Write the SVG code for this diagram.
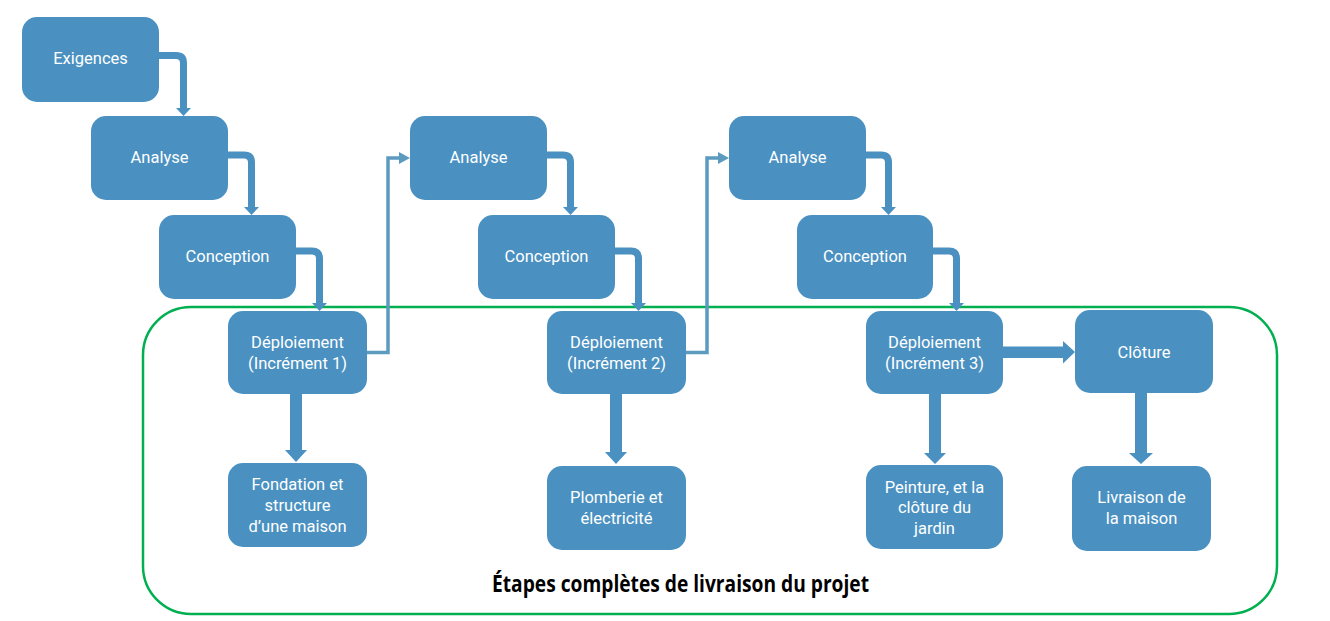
<svg xmlns="http://www.w3.org/2000/svg" width="1330" height="621" viewBox="0 0 1330 621">
<defs>
<style>
.box{fill:#4a91c2;}
.lbl{fill:#ffffff;font-family:Roboto,"Liberation Sans",sans-serif;font-size:16.5px;text-anchor:middle;}
.elbow{fill:none;stroke:#4a91c2;stroke-width:7;}
.thin{fill:none;stroke:#5b9bbf;stroke-width:3.5;}
.head{fill:#4a91c2;}
.thead{fill:#5b9bbf;}
.thick{fill:#4a91c2;}
.frame{fill:none;stroke:#00b050;stroke-width:2.5;}
.title{fill:#000000;font-family:"Open Sans","Liberation Sans",sans-serif;font-size:23px;font-weight:700;}
</style>
</defs>
<rect width="1330" height="621" fill="#ffffff"/>
<rect id="frame" class="frame" x="143" y="307" width="1134" height="307" rx="48" ry="48"/>
<text class="title" x="492" y="592" textLength="377" lengthAdjust="spacingAndGlyphs">Étapes complètes de livraison du projet</text>

<g id="connectors">
  <path class="elbow" d="M159,55.5 H176 Q183.5,55.5 183.5,63 V108"/>
  <polygon class="head" points="176,108 191,108 183.5,116"/>
  <path class="elbow" d="M228,155 H244 Q251.5,155 251.5,162.5 V207"/>
  <polygon class="head" points="244,207 259,207 251.5,215"/>
  <path class="elbow" d="M296,251 H312 Q319.5,251 319.5,258.5 V303"/>
  <polygon class="head" points="312,303 327,303 319.5,311"/>

  <path class="elbow" d="M547,155 H563 Q570.5,155 570.5,162.5 V207"/>
  <polygon class="head" points="563,207 578,207 570.5,215"/>
  <path class="elbow" d="M615,251 H631 Q638.5,251 638.5,258.5 V303"/>
  <polygon class="head" points="631,303 646,303 638.5,311"/>

  <path class="elbow" d="M866,155 H881 Q888.5,155 888.5,162.5 V207"/>
  <polygon class="head" points="881,207 896,207 888.5,215"/>
  <path class="elbow" d="M933,251 H949 Q956.5,251 956.5,258.5 V303"/>
  <polygon class="head" points="949,303 964,303 956.5,311"/>

  <path class="thin" d="M367,352.5 H388 V158 H400"/>
  <polygon class="thead" points="399,152 410,158 399,164"/>
  <path class="thin" d="M686,352.5 H707 V158 H719"/>
  <polygon class="thead" points="718,152 729,158 718,164"/>

  <polygon class="thick" points="290,394 302,394 302,450 307,450 296,462 285,450 290,450"/>
  <polygon class="thick" points="610,394 622,394 622,452 627,452 616,464 605,452 610,452"/>
  <polygon class="thick" points="929,394 941,394 941,453 946,453 935,464 924,453 929,453"/>
  <polygon class="thick" points="1135,393 1147,393 1147,453 1153,453 1141,464 1129,453 1135,453"/>
  <polygon class="thick" points="1003,346.5 1063,346.5 1063,341 1075,352 1063,363.5 1063,358 1003,358"/>
</g>

<g id="n-exigences"><rect class="box" x="22" y="17" width="137" height="85" rx="15"/><text class="lbl" x="90.5" y="64">Exigences</text></g>
<g id="n-analyse1"><rect class="box" x="91" y="116" width="137" height="84" rx="15"/><text class="lbl" x="159.5" y="163">Analyse</text></g>
<g id="n-conception1"><rect class="box" x="159" y="215" width="137" height="84" rx="15"/><text class="lbl" x="227.5" y="262">Conception</text></g>
<g id="n-deploiement1"><rect class="box" x="228" y="311" width="139" height="83" rx="15"/><text class="lbl" x="297.5" y="348">Déploiement</text><text class="lbl" x="297.5" y="369">(Incrément 1)</text></g>
<g id="n-fondation"><rect class="box" x="228" y="463" width="139" height="84" rx="15"/><text class="lbl" x="297.5" y="490">Fondation et</text><text class="lbl" x="297.5" y="511">structure</text><text class="lbl" x="297.5" y="532">d’une maison</text></g>

<g id="n-analyse2"><rect class="box" x="410" y="116" width="137" height="84" rx="15"/><text class="lbl" x="478.5" y="163">Analyse</text></g>
<g id="n-conception2"><rect class="box" x="478" y="215" width="137" height="84" rx="15"/><text class="lbl" x="546.5" y="262">Conception</text></g>
<g id="n-deploiement2"><rect class="box" x="547" y="311" width="139" height="83" rx="15"/><text class="lbl" x="616.5" y="348">Déploiement</text><text class="lbl" x="616.5" y="369">(Incrément 2)</text></g>
<g id="n-plomberie"><rect class="box" x="547" y="466" width="139" height="84" rx="15"/><text class="lbl" x="616.5" y="503">Plomberie et</text><text class="lbl" x="616.5" y="524">électricité</text></g>

<g id="n-analyse3"><rect class="box" x="729" y="116" width="137" height="84" rx="15"/><text class="lbl" x="797.5" y="163">Analyse</text></g>
<g id="n-conception3"><rect class="box" x="797" y="215" width="136" height="84" rx="15"/><text class="lbl" x="865" y="262">Conception</text></g>
<g id="n-deploiement3"><rect class="box" x="866" y="311" width="137" height="83" rx="15"/><text class="lbl" x="934.5" y="348">Déploiement</text><text class="lbl" x="934.5" y="369">(Incrément 3)</text></g>
<g id="n-peinture"><rect class="box" x="866" y="465" width="137" height="84" rx="15"/><text class="lbl" x="934.5" y="493">Peinture, et la</text><text class="lbl" x="934.5" y="513">clôture du</text><text class="lbl" x="934.5" y="534">jardin</text></g>
<g id="n-cloture"><rect class="box" x="1075" y="310" width="138" height="83" rx="15"/><text class="lbl" x="1144" y="358">Clôture</text></g>
<g id="n-livraison"><rect class="box" x="1072" y="466" width="139" height="85" rx="15"/><text class="lbl" x="1141.5" y="503">Livraison de</text><text class="lbl" x="1141.5" y="524">la maison</text></g>
</svg>
